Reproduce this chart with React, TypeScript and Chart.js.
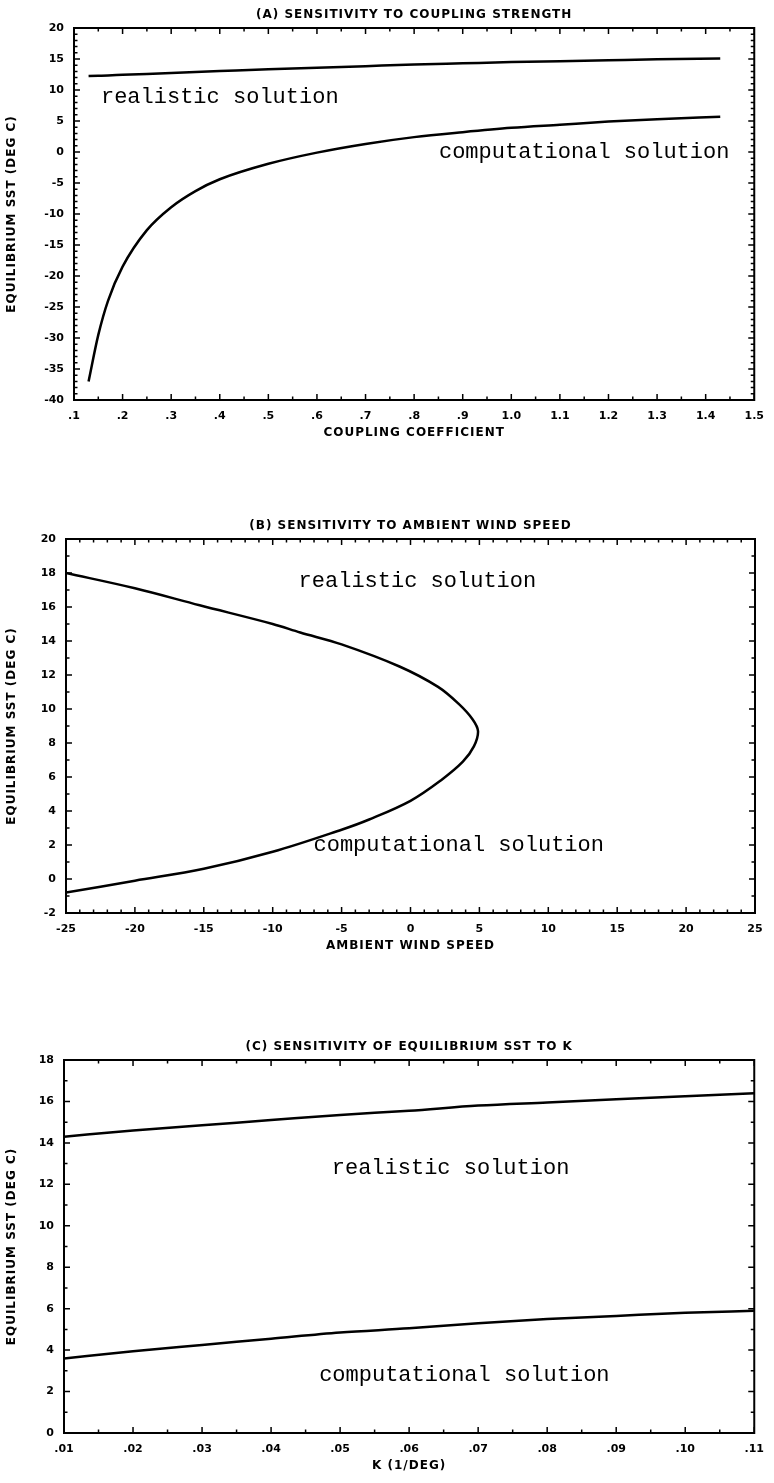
import React, { useEffect, useRef } from "react";
import { Chart, registerables } from "chart.js";

Chart.register(...registerables);

// ---------- Panel A: sensitivity to coupling strength ----------
const couplingX = [0.13, 0.15, 0.17, 0.2, 0.25, 0.3, 0.35, 0.4, 0.5, 0.6, 0.7, 0.8, 0.9, 1.0, 1.1, 1.2, 1.3, 1.43];
const couplingRealistic = [12.25, 12.3, 12.35, 12.45, 12.6, 12.75, 12.9, 13.05, 13.35, 13.6, 13.85, 14.1, 14.3, 14.5, 14.65, 14.8, 14.95, 15.1];
const couplingComputational = [-37, -29.5, -24, -18.5, -12.6, -8.9, -6.3, -4.4, -1.9, -0.1, 1.3, 2.4, 3.2, 3.9, 4.4, 4.9, 5.3, 5.7];
const couplingTickLabels = [".1", ".2", ".3", ".4", ".5", ".6", ".7", ".8", ".9", "1.0", "1.1", "1.2", "1.3", "1.4", "1.5"];

// ---------- Panel B: sensitivity to ambient wind speed ----------
const windX = [-25, -20, -15.3, -10, -8, -5, -0.8, 2, 3.5, 4.5, 4.9, 4.6, 3.8, 2.2, 0, -3, -5, -10, -15, -20, -25];
const windSST = [18.0, 17.1, 16.1, 15.0, 14.5, 13.8, 12.5, 11.3, 10.3, 9.4, 8.7, 7.8, 6.9, 5.8, 4.6, 3.5, 2.9, 1.6, 0.6, -0.1, -0.8];
const windTickLabels = ["-25", "-20", "-15", "-10", "-5", "0", "5", "10", "15", "20", "25"];

// ---------- Panel C: sensitivity to K ----------
const kX = [0.01, 0.02, 0.03, 0.04, 0.05, 0.06, 0.07, 0.08, 0.09, 0.1, 0.11];
const kRealistic = [14.3, 14.6, 14.85, 15.1, 15.35, 15.55, 15.8, 15.95, 16.1, 16.25, 16.4];
const kComputational = [3.6, 3.95, 4.25, 4.55, 4.85, 5.05, 5.3, 5.5, 5.65, 5.8, 5.9];
const kTickLabels = [".01", ".02", ".03", ".04", ".05", ".06", ".07", ".08", ".09", ".10", ".11"];

const TICK_FONT = "'DejaVu Sans', sans-serif";
const NOTE_FONT = "22px 'Liberation Mono', monospace";

type Note = { text: string; x: number; y: number };
type Panel = {
  title: string;
  xTitle: string;
  yTitle: string;
  canvasTop: number;
  canvasHeight: number;
  area: { left: number; right: number; top: number; bottom: number };
  x: { min: number; max: number; step: number; minor: number; labels: string[] };
  y: { min: number; max: number; step: number; minor: number };
  series: { xs: number[]; ys: number[]; mode: "monotone" | "default" }[];
  notes: Note[];
};

const panels: Panel[] = [
  {
    title: "(A) SENSITIVITY TO COUPLING STRENGTH",
    xTitle: "COUPLING COEFFICIENT",
    yTitle: "EQUILIBRIUM SST (DEG C)",
    canvasTop: 0,
    canvasHeight: 460,
    area: { left: 74, right: 755, top: 28, bottom: 400 },
    x: { min: 0.1, max: 1.5, step: 0.1, minor: 0.05, labels: couplingTickLabels },
    y: { min: -40, max: 20, step: 5, minor: 1 },
    series: [
      { xs: couplingX, ys: couplingRealistic, mode: "monotone" },
      { xs: couplingX, ys: couplingComputational, mode: "monotone" },
    ],
    notes: [
      { text: "realistic solution", x: 0.4, y: 8.8 },
      { text: "computational solution", x: 1.15, y: 0 },
    ],
  },
  {
    title: "(B) SENSITIVITY TO AMBIENT WIND SPEED",
    xTitle: "AMBIENT WIND SPEED",
    yTitle: "EQUILIBRIUM SST (DEG C)",
    canvasTop: 470,
    canvasHeight: 500,
    area: { left: 66, right: 755, top: 539, bottom: 913 },
    x: { min: -25, max: 25, step: 5, minor: 1, labels: windTickLabels },
    y: { min: -2, max: 20, step: 2, minor: 1 },
    series: [{ xs: windX, ys: windSST, mode: "default" }],
    notes: [
      { text: "realistic solution", x: 0.5, y: 17.5 },
      { text: "computational solution", x: 3.5, y: 2.0 },
    ],
  },
  {
    title: "(C) SENSITIVITY OF EQUILIBRIUM SST TO K",
    xTitle: "K (1/DEG)",
    yTitle: "EQUILIBRIUM SST (DEG C)",
    canvasTop: 1000,
    canvasHeight: 483,
    area: { left: 64, right: 755, top: 1060, bottom: 1433 },
    x: { min: 0.01, max: 0.11, step: 0.01, minor: 0.005, labels: kTickLabels },
    y: { min: 0, max: 18, step: 2, minor: 1 },
    series: [
      { xs: kX, ys: kRealistic, mode: "monotone" },
      { xs: kX, ys: kComputational, mode: "monotone" },
    ],
    notes: [
      { text: "realistic solution", x: 0.066, y: 12.8 },
      { text: "computational solution", x: 0.068, y: 2.8 },
    ],
  },
];

function framePlugin(p: Panel) {
  return {
    id: "frame",
    afterDatasetsDraw(chart: any) {
      const { ctx, chartArea: a } = chart;
      const xs = chart.scales.x;
      const ys = chart.scales.y;
      ctx.save();
      ctx.strokeStyle = "#000";
      ctx.fillStyle = "#000";

      // frame
      ctx.lineWidth = 2;
      ctx.strokeRect(a.left, a.top, a.right - a.left, a.bottom - a.top);

      // tick marks on all four sides, pointing inward
      ctx.lineWidth = 1.5;
      const nx = Math.round((p.x.max - p.x.min) / p.x.minor);
      const perX = Math.round(p.x.step / p.x.minor);
      for (let i = 0; i <= nx; i++) {
        const v = p.x.min + i * p.x.minor;
        const px = xs.getPixelForValue(v);
        const len = i % perX === 0 ? 6 : 3.5;
        ctx.beginPath();
        ctx.moveTo(px, a.bottom);
        ctx.lineTo(px, a.bottom - len);
        ctx.moveTo(px, a.top);
        ctx.lineTo(px, a.top + len);
        ctx.stroke();
      }
      const ny = Math.round((p.y.max - p.y.min) / p.y.minor);
      const perY = Math.round(p.y.step / p.y.minor);
      for (let i = 0; i <= ny; i++) {
        const v = p.y.min + i * p.y.minor;
        const py = ys.getPixelForValue(v);
        const len = i % perY === 0 ? 6 : 3.5;
        ctx.beginPath();
        ctx.moveTo(a.left, py);
        ctx.lineTo(a.left + len, py);
        ctx.moveTo(a.right, py);
        ctx.lineTo(a.right - len, py);
        ctx.stroke();
      }

      // titles
      const cx = (a.left + a.right) / 2;
      ctx.font = `bold 12px ${TICK_FONT}`;
      (ctx as any).letterSpacing = "1px";
      ctx.textAlign = "center";
      ctx.textBaseline = "middle";
      ctx.fillText(p.title, cx, a.top - 13);
      ctx.fillText(p.xTitle, cx, a.bottom + 33);
      ctx.save();
      ctx.translate(12, (a.top + a.bottom) / 2);
      ctx.rotate(-Math.PI / 2);
      ctx.fillText(p.yTitle, 0, 0);
      ctx.restore();
      (ctx as any).letterSpacing = "0px";

      // curve annotations
      ctx.font = NOTE_FONT;
      for (const n of p.notes) {
        ctx.fillText(n.text, xs.getPixelForValue(n.x), ys.getPixelForValue(n.y));
      }
      ctx.restore();
    },
  };
}

function PanelChart({ p }: { p: Panel }) {
  const ref = useRef<HTMLCanvasElement | null>(null);
  useEffect(() => {
    if (!ref.current) return;
    const xAxisHeight = p.canvasHeight - (p.area.bottom - p.canvasTop);
    const chart = new Chart(ref.current, {
      type: "line",
      data: {
        datasets: p.series.map((s) => ({
          data: s.xs.map((x, i) => ({ x, y: s.ys[i] })),
          borderColor: "#000",
          borderWidth: 2.5,
          pointRadius: 0,
          fill: false,
          tension: 0.35,
          cubicInterpolationMode: s.mode,
        })),
      },
      options: {
        animation: false,
        responsive: false,
        maintainAspectRatio: false,
        layout: {
          padding: { top: p.area.top - p.canvasTop, right: 774 - p.area.right, left: 0, bottom: 0 },
        },
        plugins: { legend: { display: false }, tooltip: { enabled: false }, title: { display: false } },
        scales: {
          x: {
            type: "linear",
            min: p.x.min,
            max: p.x.max,
            grid: { display: false, drawTicks: false },
            border: { display: false },
            ticks: {
              stepSize: p.x.step,
              autoSkip: false,
              maxRotation: 0,
              color: "#000",
              padding: 10,
              font: { family: TICK_FONT, size: 11, weight: "bold" },
              callback: (v: any) => p.x.labels[Math.round((Number(v) - p.x.min) / p.x.step)] ?? "",
            },
            afterFit: (s: any) => {
              s.height = xAxisHeight;
            },
          },
          y: {
            type: "linear",
            min: p.y.min,
            max: p.y.max,
            grid: { display: false, drawTicks: false },
            border: { display: false },
            ticks: {
              stepSize: p.y.step,
              color: "#000",
              padding: 10,
              font: { family: TICK_FONT, size: 11, weight: "bold" },
            },
            afterFit: (s: any) => {
              s.width = p.area.left;
            },
          },
        },
      } as any,
      plugins: [framePlugin(p)],
    });
    return () => chart.destroy();
  }, [p]);
  return (
    <canvas
      ref={ref}
      width={774}
      height={p.canvasHeight}
      style={{ position: "absolute", left: 0, top: p.canvasTop, width: 774, height: p.canvasHeight, display: "block" }}
    />
  );
}

export default function App() {
  return (
    <div style={{ position: "absolute", left: 0, top: 0, width: 774, height: 1483, background: "#fff" }}>
      {panels.map((p, i) => (
        <PanelChart key={i} p={p} />
      ))}
    </div>
  );
}
